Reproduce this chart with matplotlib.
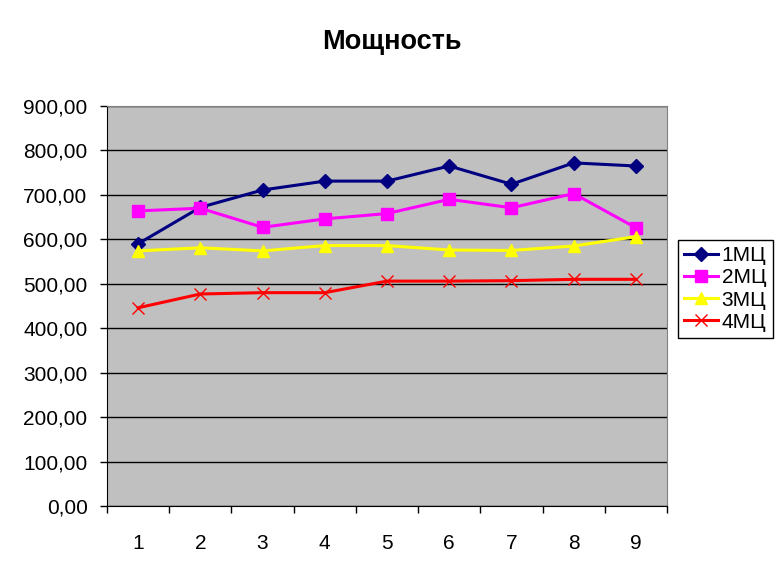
import numpy as np
import matplotlib
matplotlib.use('Agg')
import matplotlib.pyplot as plt
from matplotlib.ticker import MultipleLocator, FixedLocator, FuncFormatter

plt.rcParams['font.family'] = ['Liberation Sans', 'DejaVu Sans']

# данные
categories = [1, 2, 3, 4, 5, 6, 7, 8, 9]
mc1 = [590, 672, 711, 731, 731, 765, 724, 772, 765]
mc2 = [664, 670, 627, 646, 658, 690, 671, 703, 626]
mc3 = [574, 581, 574, 586, 586, 576, 575, 585, 606]
mc4 = [446, 477, 480, 480, 506, 506, 507, 510, 510]
series_names = ['1МЦ', '2МЦ', '3МЦ', '4МЦ']
title = 'Мощность'

fig = plt.figure(figsize=(7.84, 5.70), dpi=100)
ax = fig.add_axes([107/784, 64/570, 560/784, 400/570])
ax.set_facecolor('#C0C0C0')

x = np.array(categories)
ax.plot(x, mc1, color='#000080', lw=2.2, marker='D', ms=7.5, label=series_names[0])
ax.plot(x, mc2, color='#FF00FF', lw=2.2, marker='s', ms=8, label=series_names[1])
ax.plot(x, mc3, color='#FFFF00', lw=2.2, marker='^', ms=9, label=series_names[2])
ax.plot(x, mc4, color='#FF0000', lw=2.2, marker='x', ms=8, mew=1, label=series_names[3])

ax.set_ylim(0, 900)
ax.set_xlim(0.5, 9.5)
ax.yaxis.set_major_locator(MultipleLocator(100))
ax.yaxis.set_major_formatter(FuncFormatter(lambda v, p: f'{v:.2f}'.replace('.', ',')))
ax.grid(axis='y', color='black', lw=1)
ax.set_axisbelow(True)

ax.xaxis.set_major_locator(FixedLocator(np.arange(0.5, 10, 1)))
ax.xaxis.set_major_formatter(FuncFormatter(lambda v, p: ''))
ax.xaxis.set_minor_locator(FixedLocator(x))
ax.xaxis.set_minor_formatter(FuncFormatter(lambda v, p: str(int(round(v)))))
ax.tick_params(axis='x', which='minor', length=0, pad=20, labelsize=15)
ax.tick_params(axis='x', which='major', length=5, width=1, direction='out')
ax.tick_params(axis='y', length=5, width=1, direction='out', pad=9, labelsize=15)

for s in ['top', 'right']:
    ax.spines[s].set_color('#808080')
for s in ['left', 'bottom']:
    ax.spines[s].set_color('black')

fig.text(392/784, 1 - 42/570, title, ha='center', va='center', fontsize=19.5, fontweight='bold')

leg = fig.legend(loc='upper left', bbox_to_anchor=(678/784, 1 - 240/570), fontsize=15,
                 frameon=True, fancybox=False, edgecolor='black', framealpha=1,
                 handlelength=1.6, handletextpad=0.2, borderpad=0.3, labelspacing=0.15,
                 borderaxespad=0)
leg.get_frame().set_linewidth(1)

fig.savefig('out.png', dpi=100)
